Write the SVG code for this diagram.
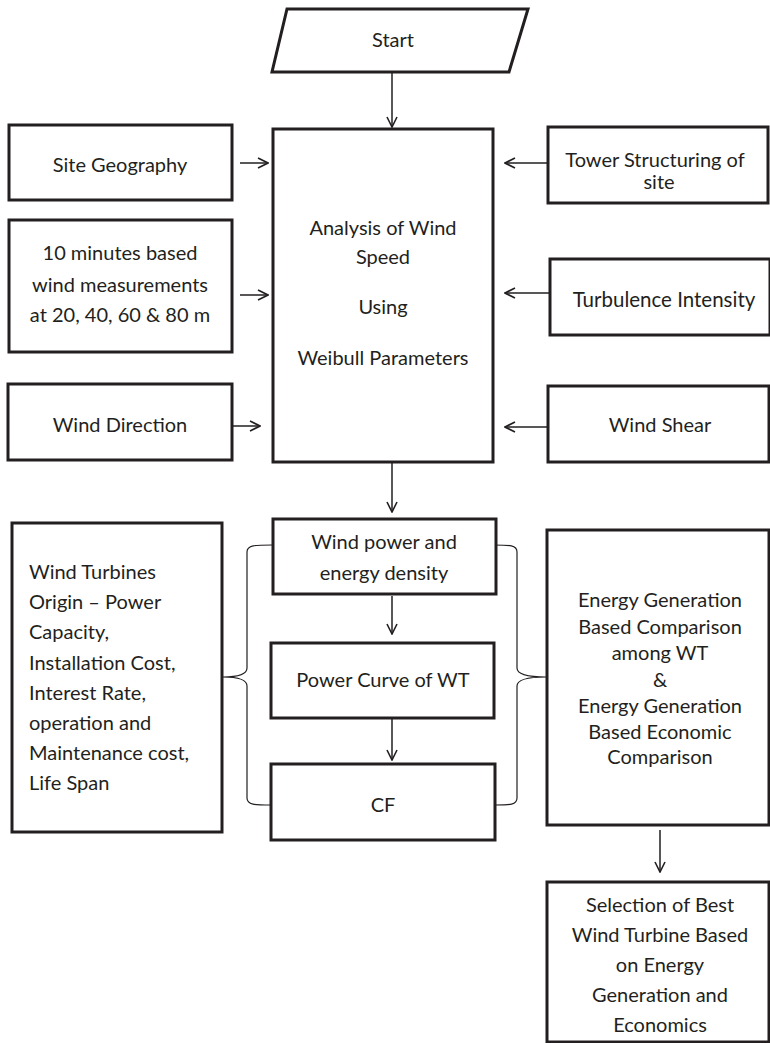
<svg xmlns="http://www.w3.org/2000/svg" width="770" height="1043" viewBox="0 0 770 1043">
<defs>
<marker id="ah" viewBox="0 0 12 12" refX="11" refY="6" markerWidth="12" markerHeight="12" markerUnits="userSpaceOnUse" orient="auto">
<path d="M1,1 L11,6 L1,11" fill="none" stroke="#231f20" stroke-width="1.6"/>
</marker>
<style>
.box{fill:#fff;stroke:#231f20;stroke-width:3}
.t{font-family:Lato,"Liberation Sans",sans-serif;font-size:20px;fill:#231f20;text-anchor:middle}
.tl{font-family:Lato,"Liberation Sans",sans-serif;font-size:20px;fill:#231f20}
.c{fill:none;stroke:#231f20;stroke-width:1.5}
.br{fill:none;stroke:#231f20;stroke-width:1.2}
</style>
</defs>
<rect width="770" height="1043" fill="#fff"/>
<g id="connectors">
<line class="c" x1="392" y1="73" x2="392" y2="127" marker-end="url(#ah)"/>
<line class="c" x1="240" y1="163" x2="268" y2="163" marker-end="url(#ah)"/>
<line class="c" x1="240" y1="295" x2="268" y2="295" marker-end="url(#ah)"/>
<line class="c" x1="233" y1="426" x2="260" y2="426" marker-end="url(#ah)"/>
<line class="c" x1="547" y1="163" x2="505" y2="163" marker-end="url(#ah)"/>
<line class="c" x1="549" y1="293" x2="505" y2="293" marker-end="url(#ah)"/>
<line class="c" x1="547" y1="427" x2="505" y2="427" marker-end="url(#ah)"/>
<line class="c" x1="392" y1="463" x2="392" y2="512" marker-end="url(#ah)"/>
<line class="c" x1="392" y1="596" x2="392" y2="634" marker-end="url(#ah)"/>
<line class="c" x1="392" y1="719" x2="392" y2="760" marker-end="url(#ah)"/>
<line class="c" x1="660" y1="830" x2="660" y2="872" marker-end="url(#ah)"/>
<path class="br" d="M272,545 C255,545 247,545 247,552 L247,668 C247,674 238,677 223,677 C238,677 247,680 247,686 L247,798 C247,805 255,805 271,805"/>
<path class="br" d="M493,545 C510,545 517,545 517,552 L517,668 C517,674 528,677 546,677 C528,677 517,680 517,686 L517,798 C517,805 510,805 495,805"/>
</g>
<g id="start">
<polygon class="box" points="287,9 528,9 509,72 272,72"/>
<text class="t" x="393" y="47">Start</text>
</g>
<g id="analysis">
<rect class="box" x="273" y="129" width="220" height="333"/>
<text class="t" x="383" y="235">Analysis of Wind</text>
<text class="t" x="383" y="264">Speed</text>
<text class="t" x="383" y="314">Using</text>
<text class="t" x="383" y="365">Weibull Parameters</text>
</g>
<g id="site-geography">
<rect class="box" x="9" y="125" width="223" height="75"/>
<text class="t" x="120" y="172">Site Geography</text>
</g>
<g id="wind-measurements">
<rect class="box" x="9" y="220" width="223" height="132"/>
<text class="t" x="120" y="260">10 minutes based</text>
<text class="t" x="120" y="292">wind measurements</text>
<text class="t" x="120" y="322">at 20, 40, 60 &amp; 80 m</text>
</g>
<g id="wind-direction">
<rect class="box" x="8" y="384" width="224" height="76"/>
<text class="t" x="120" y="432">Wind Direction</text>
</g>
<g id="tower-structuring">
<rect class="box" x="548" y="127" width="220" height="76"/>
<text class="t" x="655" y="167" style="font-size:20px">Tower Structuring of</text>
<text class="t" x="659" y="189" style="font-size:20px">site</text>
</g>
<g id="turbulence">
<rect class="box" x="550" y="259" width="220" height="76"/>
<text class="t" x="664" y="307" style="font-size:20.5px">Turbulence Intensity</text>
</g>
<g id="wind-shear">
<rect class="box" x="548" y="386" width="221" height="76"/>
<text class="t" x="660" y="432">Wind Shear</text>
</g>
<g id="wind-power">
<rect class="box" x="273" y="519" width="223" height="75"/>
<text class="t" x="384" y="549">Wind power and</text>
<text class="t" x="384" y="580">energy density</text>
</g>
<g id="power-curve">
<rect class="box" x="271" y="643" width="223" height="75"/>
<text class="t" x="383" y="687">Power Curve of WT</text>
</g>
<g id="cf">
<rect class="box" x="271" y="764" width="224" height="76"/>
<text class="t" x="383" y="812">CF</text>
</g>
<g id="wind-turbines">
<rect class="box" x="12" y="523" width="210" height="309"/>
<text class="tl" x="29" y="579">Wind Turbines</text>
<text class="tl" x="29" y="609">Origin – Power</text>
<text class="tl" x="29" y="639">Capacity,</text>
<text class="tl" x="29" y="670">Installation Cost,</text>
<text class="tl" x="29" y="700">Interest Rate,</text>
<text class="tl" x="29" y="730">operation and</text>
<text class="tl" x="29" y="760">Maintenance cost,</text>
<text class="tl" x="29" y="790">Life Span</text>
</g>
<g id="energy-comparison">
<rect class="box" x="547" y="530" width="222" height="295"/>
<text class="t" x="660" y="607">Energy Generation</text>
<text class="t" x="660" y="634">Based Comparison</text>
<text class="t" x="660" y="660">among WT</text>
<text class="t" x="660" y="687">&amp;</text>
<text class="t" x="660" y="713">Energy Generation</text>
<text class="t" x="660" y="739">Based Economic</text>
<text class="t" x="660" y="764">Comparison</text>
</g>
<g id="selection">
<rect class="box" x="547" y="882" width="222" height="160"/>
<text class="t" x="660" y="912">Selection of Best</text>
<text class="t" x="660" y="942">Wind Turbine Based</text>
<text class="t" x="660" y="972">on Energy</text>
<text class="t" x="660" y="1002">Generation and</text>
<text class="t" x="660" y="1032">Economics</text>
</g>
</svg>
